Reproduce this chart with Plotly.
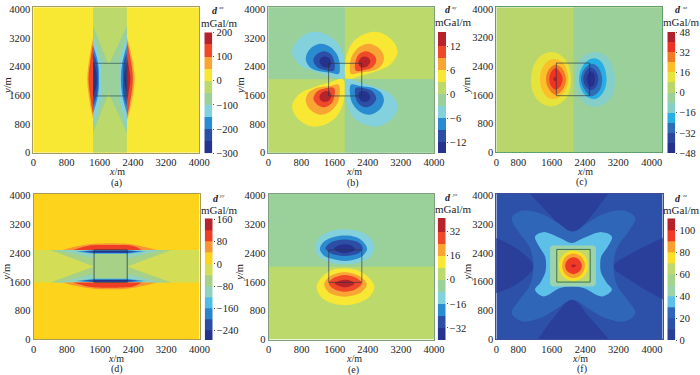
import plotly.graph_objects as go

W, H = 700, 375
FONT = "Liberation Serif"
TXT = "#222222"

# ---- shared colour bands, low to high ----
pal10 = ["#25338f", "#2d4ea5", "#2b8bd0", "#82d1dc", "#9ad09a", "#bcd96b", "#f8e733", "#f9a533", "#f0492a", "#b6232b"]
pal12 = ["#26318f", "#2a46a0", "#2e6eb8", "#27aee4", "#86cfc8", "#9bd09a", "#b8d66c", "#e6e33d", "#fcbf2a", "#f27a25", "#ee3324", "#b0222b"]
pald = ["#25338f", "#2b4da3", "#2b83ca", "#4fbce8", "#92d1bc", "#a6d186", "#d3dd55", "#fdd31c", "#f89633", "#ef3e26", "#b6232b"]
palf = ["#2a3f9a", "#2d50a8", "#2f66b8", "#5cc0e8", "#9cd3ad", "#a4d38a", "#c0d870", "#fbdf24", "#f8a02e", "#ee3a26", "#b4212a"]

# ---- colour-bar band edges and tick labels ----
a_edges = [-300, -250, -200, -150, -100, -50, 0, 50, 100, 150, 200]
a_ticks = [-300, -200, -100, 0, 100, 200]
b_edges = [-14.7, -12, -9, -6, -3, 0, 3, 6, 9, 12, 15.6]
b_ticks = [-12, -6, 0, 6, 12]
c_edges = [-48, -40, -32, -24, -16, -8, 0, 8, 16, 24, 32, 40, 48]
c_ticks = [-48, -32, -16, 0, 16, 32, 48]
d_edges = [-274, -240, -200, -160, -120, -80, -40, 0, 40, 80, 120, 164]
d_ticks = [-240, -160, -80, 0, 80, 160]
e_edges = [-40, -32, -24, -16, -8, 0, 8, 16, 24, 32, 41]
e_ticks = [-32, -16, 0, 16, 32]
f_edges = [0, 10, 20, 30, 40, 50, 60, 70, 80, 90, 100, 111]
f_ticks = [0, 20, 40, 60, 80, 100]

# ---- axis ticks ----
tick_vals = [0, 800, 1600, 2400, 3200, 4000]
tick_text = ["0", "800", "1600", "2400", "3200", "4000"]
shift_x_vals = [272, 800, 1600, 2400, 3200, 4000]

# ---- contour regions: (band, smooth, xs, ys), painted in order ----
a_regions = [
    (5, False, [1440, 2256, 2256, 1440], [0, 0, 4050, 4050]),
    (4, False, [1440, 1816, 2256, 2256, 1816, 1440], [3534, 2446, 3534, 558, 1665, 558]),
    (3, False, [1440, 1640, 1620, 1640, 1440], [3300, 2490, 2050, 1560, 650]),
    (3, False, [2256, 2060, 2080, 2060, 2256], [3300, 2490, 2050, 1560, 650]),
    (2, True, [1440, 1560, 1584, 1560, 1440], [3000, 2500, 2050, 1600, 1100]),
    (2, True, [2256, 2144, 2110, 2144, 2256], [3000, 2500, 2050, 1600, 1100]),
    (1, True, [1440, 1540, 1560, 1540, 1440], [2800, 2450, 2050, 1650, 1300]),
    (1, True, [2256, 2170, 2160, 2170, 2256], [2800, 2450, 2050, 1650, 1300]),
    (0, True, [1440, 1510, 1530, 1510, 1440], [2560, 2300, 2050, 1800, 1550]),
    (0, True, [2256, 2200, 2190, 2200, 2256], [2500, 2200, 2050, 1900, 1650]),
    (7, True, [1440, 1360, 1300, 1360, 1440], [3200, 2700, 2050, 1400, 950]),
    (8, True, [1440, 1380, 1330, 1380, 1440], [3050, 2600, 2050, 1500, 1050]),
    (7, True, [2256, 2350, 2440, 2350, 2256], [3200, 2800, 2050, 1300, 900]),
    (8, True, [2256, 2330, 2400, 2330, 2256], [3100, 2700, 2050, 1400, 1000]),
    (9, True, [2256, 2300, 2340, 2300, 2256], [2700, 2400, 2050, 1700, 1400]),
]
b_regions = [
    (4, False, [0, 1848, 1848, 0], [2046, 2046, 4050, 4050]),
    (5, False, [1848, 4000, 4000, 1848], [2046, 2046, 4050, 4050]),
    (5, False, [0, 1848, 1848, 0], [0, 0, 2046, 2046]),
    (4, False, [1848, 4000, 4000, 1848], [0, 0, 2046, 2046]),
    (3, True, [576, 680, 1000, 1320, 1640, 1824, 1800, 1520, 1120, 760], [2790, 3097, 3348, 3329, 3097, 2632, 2046, 2120, 2260, 2446]),
    (2, True, [904, 1000, 1240, 1480, 1664, 1728, 1696, 1480, 1160, 976], [2632, 2883, 3032, 2958, 2725, 2400, 2195, 2232, 2288, 2418]),
    (1, True, [1088, 1184, 1360, 1520, 1600, 1584, 1360, 1184], [2585, 2753, 2827, 2725, 2492, 2288, 2306, 2381]),
    (0, True, [1232, 1296, 1440, 1520, 1480, 1330], [2539, 2660, 2660, 2520, 2390, 2390]),
    (6, True, [3120, 3016, 2696, 2376, 2056, 1872, 1896, 2176, 2576, 2936], [2790, 3097, 3348, 3329, 3097, 2632, 2046, 2120, 2260, 2446]),
    (7, True, [2792, 2696, 2456, 2216, 2032, 1968, 2000, 2216, 2536, 2720], [2632, 2883, 3032, 2958, 2725, 2400, 2195, 2232, 2288, 2418]),
    (8, True, [2608, 2512, 2336, 2176, 2096, 2112, 2336, 2512], [2585, 2753, 2827, 2725, 2492, 2288, 2306, 2381]),
    (9, True, [2464, 2400, 2256, 2176, 2216, 2366], [2539, 2660, 2660, 2520, 2390, 2390]),
    (6, True, [576, 680, 1000, 1320, 1640, 1824, 1800, 1520, 1120, 760], [1302, 995, 744, 763, 995, 1460, 2046, 1972, 1832, 1646]),
    (7, True, [904, 1000, 1240, 1480, 1664, 1728, 1696, 1480, 1160, 976], [1460, 1209, 1060, 1134, 1367, 1692, 1897, 1860, 1804, 1674]),
    (8, True, [1088, 1184, 1360, 1520, 1600, 1584, 1360, 1184], [1507, 1339, 1265, 1367, 1600, 1804, 1786, 1711]),
    (9, True, [1232, 1296, 1440, 1520, 1480, 1330], [1553, 1432, 1432, 1572, 1702, 1702]),
    (3, True, [3120, 3016, 2696, 2376, 2056, 1872, 1896, 2176, 2576, 2936], [1302, 995, 744, 763, 995, 1460, 2046, 1972, 1832, 1646]),
    (2, True, [2792, 2696, 2456, 2216, 2032, 1968, 2000, 2216, 2536, 2720], [1460, 1209, 1060, 1134, 1367, 1692, 1897, 1860, 1804, 1674]),
    (1, True, [2608, 2512, 2336, 2176, 2096, 2112, 2336, 2512], [1507, 1339, 1265, 1367, 1600, 1804, 1786, 1711]),
    (0, True, [2464, 2400, 2256, 2176, 2216, 2366], [1553, 1432, 1432, 1572, 1702, 1702]),
]
c_regions = [
    (5, False, [2120, 4256, 4256, 2120], [0, 0, 4050, 4050]),
    (7, True, [1104, 1160, 1320, 1560, 1800, 1984, 2064, 2000, 1800, 1560, 1320, 1160], [2027, 2399, 2678, 2799, 2725, 2492, 2074, 1609, 1358, 1283, 1395, 1655]),
    (8, True, [1320, 1376, 1520, 1680, 1880, 2000, 1920, 1720, 1520, 1376], [2027, 2353, 2557, 2604, 2492, 2074, 1702, 1497, 1516, 1730]),
    (9, True, [1464, 1520, 1680, 1840, 1944, 1856, 1680, 1520], [2046, 2288, 2446, 2353, 2046, 1730, 1609, 1795]),
    (10, True, [1544, 1584, 1696, 1808, 1864, 1808, 1696, 1584], [2046, 2232, 2353, 2232, 2046, 1842, 1749, 1860]),
    (11, True, [1640, 1680, 1720, 1680], [2046, 2110, 2046, 1982]),
    (4, True, [2176, 2240, 2416, 2656, 2920, 3080, 3120, 3080, 2920, 2656, 2416, 2240], [2074, 2492, 2725, 2799, 2678, 2353, 2027, 1655, 1395, 1265, 1358, 1609]),
    (3, True, [2256, 2320, 2464, 2656, 2816, 2920, 2840, 2656, 2440, 2320], [2046, 2353, 2567, 2623, 2492, 2046, 1674, 1488, 1562, 1730]),
    (2, True, [2304, 2384, 2544, 2704, 2816, 2736, 2544, 2384], [2046, 2325, 2474, 2399, 2046, 1702, 1562, 1767]),
    (1, True, [2360, 2416, 2544, 2664, 2720, 2664, 2544, 2416], [2046, 2260, 2371, 2260, 2046, 1823, 1730, 1842]),
    (0, True, [2440, 2480, 2544, 2616, 2640, 2616, 2544, 2480], [2046, 2195, 2260, 2195, 2046, 1888, 1823, 1888]),
]
d_regions = [
    (6, False, [0, 4000, 4000, 0], [1581, 1581, 2492, 2492]),
    (5, False, [400, 3320, 2256, 3320, 400, 1456], [2492, 2492, 2027, 1581, 1581, 2027]),
    (4, False, [560, 1456, 1456], [2492, 2250, 2492]),
    (4, False, [2256, 2256, 3100], [2492, 2250, 2492]),
    (4, False, [560, 1456, 1456], [1581, 1830, 1581]),
    (4, False, [2256, 2256, 3100], [1581, 1830, 1581]),
    (3, False, [1000, 1456, 2256, 2720, 2256, 1456], [2450, 2492, 2492, 2450, 2380, 2380]),
    (2, False, [1060, 1456, 2256, 2640, 2256, 1456], [2445, 2480, 2480, 2445, 2400, 2400]),
    (1, False, [1200, 1456, 2256, 2500, 2256, 1456], [2440, 2470, 2470, 2440, 2410, 2410]),
    (0, False, [1456, 2256, 2256, 1456], [2460, 2460, 2420, 2420]),
    (3, False, [1000, 1456, 2256, 2720, 2256, 1456], [1623, 1581, 1581, 1623, 1693, 1693]),
    (2, False, [1060, 1456, 2256, 2640, 2256, 1456], [1628, 1593, 1593, 1628, 1673, 1673]),
    (1, False, [1200, 1456, 2256, 2500, 2256, 1456], [1633, 1603, 1603, 1633, 1663, 1663]),
    (0, False, [1456, 2256, 2256, 1456], [1613, 1613, 1653, 1653]),
    (8, True, [700, 1000, 1450, 2250, 2650, 2970], [2492, 2580, 2660, 2660, 2580, 2492]),
    (9, True, [950, 1300, 1500, 2150, 2400, 2610], [2492, 2600, 2625, 2625, 2600, 2492]),
    (8, True, [700, 1000, 1450, 2250, 2650, 2970], [1581, 1490, 1410, 1410, 1490, 1581]),
    (9, True, [950, 1300, 1500, 2150, 2400, 2610], [1581, 1470, 1445, 1445, 1470, 1581]),
]
e_regions = [
    (4, False, [0, 4000, 4000, 0], [2027, 2027, 4050, 4050]),
    (3, True, [1120, 1216, 1480, 1840, 2200, 2464, 2560, 2464, 2200, 1840, 1480, 1216], [2539, 2818, 3004, 3069, 3004, 2818, 2539, 2306, 2148, 2092, 2148, 2306]),
    (2, True, [1240, 1344, 1560, 1840, 2120, 2280, 2384, 2280, 2120, 1840, 1560, 1344], [2520, 2725, 2846, 2892, 2846, 2725, 2520, 2334, 2241, 2185, 2241, 2334]),
    (1, True, [1376, 1480, 1640, 1840, 2040, 2200, 2280, 2200, 2040, 1840, 1640, 1480], [2539, 2678, 2753, 2781, 2753, 2678, 2539, 2418, 2353, 2325, 2353, 2418]),
    (0, True, [1584, 1696, 1840, 1984, 2096, 1984, 1840, 1696], [2520, 2623, 2650, 2623, 2520, 2436, 2399, 2436]),
    (6, True, [1160, 1264, 1480, 1840, 2200, 2440, 2560, 2440, 2200, 1840, 1480, 1264], [1469, 1702, 1907, 1981, 1907, 1702, 1469, 1190, 1032, 958, 1032, 1190]),
    (7, True, [1344, 1440, 1600, 1840, 2080, 2256, 2376, 2256, 2080, 1840, 1600, 1440], [1535, 1720, 1823, 1869, 1823, 1720, 1535, 1330, 1237, 1190, 1237, 1330]),
    (8, True, [1456, 1560, 1696, 1840, 2000, 2136, 2256, 2136, 2000, 1840, 1696, 1560], [1562, 1702, 1767, 1795, 1767, 1702, 1562, 1423, 1358, 1330, 1358, 1423]),
    (9, True, [1600, 1720, 1840, 1984, 2080, 1984, 1840, 1720], [1562, 1637, 1665, 1637, 1562, 1488, 1451, 1488]),
]
f_regions = [
    (0, "open", [1040, 1520, 1920, 2080, 2240, 2600, 2976], [4100, 3515, 3050, 2957, 3050, 3515, 4100]),
    (0, "open", [200, 800, 1160, 800, 200], [2850, 2492, 2027, 1562, 1250]),
    (0, "open", [4300, 3520, 3080, 3520, 4300], [2850, 2399, 2027, 1609, 1080]),
    (0, "open", [1250, 1640, 2080, 2520, 2990], [-50, 586, 1097, 586, -50]),
    (2, True, [2096, 2480, 2880, 3360, 3600, 3440, 3160, 3080, 3160, 3440, 3600, 3360, 2880, 2480, 2096, 1720, 1320, 880, 640, 800, 1080, 1160, 1080, 800, 640, 880, 1320, 1720],
     [3004, 3264, 3515, 3580, 3376, 3004, 2539, 2027, 1516, 1051, 725, 493, 586, 846, 1097, 846, 586, 493, 725, 1051, 1516, 2027, 2539, 3004, 3376, 3580, 3515, 3264]),
    (3, True, [2080, 2360, 2800, 3040, 2920, 2784, 2760, 2784, 2920, 3040, 2800, 2360, 2080, 1800, 1400, 1200, 1320, 1440, 1464, 1440, 1320, 1200, 1400, 1800],
     [2678, 2818, 2985, 2864, 2539, 2306, 2074, 1841, 1562, 1376, 1190, 1423, 1469, 1423, 1190, 1376, 1562, 1841, 2074, 2306, 2539, 2864, 2985, 2818]),
    (4, False, [1620, 2600, 2656, 2656, 2600, 1620, 1560, 1560], [2613, 2613, 2560, 1530, 1469, 1469, 1530, 2560]),
    (6, False, [1712, 2512, 2512, 1712], [2500, 2500, 1590, 1590]),
    (7, True, [2120, 2370, 2472, 2370, 2120, 1870, 1768, 1870], [2474, 2349, 2046, 1743, 1618, 1743, 2046, 2349]),
    (8, True, [2120, 2312, 2392, 2312, 2120, 1928, 1848, 1928], [2390, 2289, 2046, 1803, 1702, 1803, 2046, 2289]),
    (9, True, [2120, 2260, 2320, 2260, 2120, 1980, 1920, 1980], [2280, 2210, 2046, 1882, 1812, 1882, 2046, 2210]),
    (10, True, [2060, 2120, 2180, 2120], [2046, 2090, 2046, 2002]),
]

# ---- prism outlines drawn on each panel ----
a_box = ([1456, 2256, 2256, 1456, 1456], [1581, 1581, 2490, 2490, 1581])
b_box = ([1456, 2256, 2256, 1456, 1456], [1581, 1581, 2490, 2490, 1581])
c_box = ([1712, 2512, 2512, 1712, 1712], [1581, 1581, 2492, 2492, 1581])
d_box = ([1456, 2256, 2256, 1456, 1456], [1590, 1590, 2492, 2492, 1590])
e_box = ([1456, 2256, 2256, 1456, 1456], [1590, 1590, 2492, 2492, 1590])
f_box = ([1720, 2520, 2520, 1720, 1720], [1590, 1590, 2502, 2502, 1590])

panels = [
    dict(name="a", sup="xx", closed=False, regions=a_regions, pal=pal10, bg=6, edges=a_edges, ticks=a_ticks, box=a_box, xr=[0, 4000], tv=tick_vals,
         rect=(33.3, 199.3, 7.3, 152.7), bar=(204.3, 212.3, 32.3, 153.3), frame="#a89c5a", boxc="rgba(30,70,80,0.7)",
         yt=7, xt=116.7, lab=116.7, dlab=(215, 11), mg=(219, 23)),
    dict(name="b", sup="xy", closed=True, regions=b_regions, pal=pal10, bg=4, edges=b_edges, ticks=b_ticks, box=b_box, xr=[0, 4000], tv=tick_vals,
         rect=(268.3, 434, 7.3, 152.7), bar=(438, 446, 32, 153), frame="#7f9f7f", boxc="rgba(30,50,60,0.7)",
         yt=240, xt=354, lab=353, dlab=(448, 10), mg=(453, 22)),
    dict(name="c", sup="xz", closed=True, regions=c_regions, pal=pal12, bg=6, edges=c_edges, ticks=c_ticks, box=c_box, xr=[272, 4256], tv=shift_x_vals,
         rect=(496.3, 662.3, 7.3, 152.3), bar=(667.3, 675.3, 32, 153), frame="#5f9f6f", boxc="rgba(30,50,60,0.7)",
         yt=467, xt=585, lab=581.7, dlab=(678, 10), mg=(681, 22)),
    dict(name="d", sup="yy", closed=False, regions=d_regions, pal=pald, bg=7, edges=d_edges, ticks=d_ticks, box=d_box, xr=[0, 4000], tv=tick_vals,
         rect=(33.7, 199.5, 194, 339.3), bar=(204.7, 212.7, 218.3, 340), frame="#a89c5a", boxc="rgba(30,50,60,0.8)",
         yt=7, xt=116, lab=117, dlab=(216, 198), mg=(219, 210)),
    dict(name="e", sup="yz", closed=True, regions=e_regions, pal=pal10, bg=5, edges=e_edges, ticks=e_ticks, box=e_box, xr=[0, 4000], tv=tick_vals,
         rect=(268.5, 434, 194, 339.5), bar=(437.7, 445.7, 218, 340), frame="#7f9f7f", boxc="rgba(50,50,60,0.7)",
         yt=240, xt=354, lab=353, dlab=(448, 197), mg=(453, 209)),
    dict(name="f", sup="zz", closed=True, regions=f_regions, pal=palf, bg=1, edges=f_edges, ticks=f_ticks, box=f_box, xr=[272, 4256], tv=shift_x_vals,
         rect=(496.3, 662.7, 194, 339), bar=(667.3, 675.3, 218.3, 340), frame="#3f4fa0", boxc="rgba(30,90,60,0.9)",
         yt=467, xt=580, lab=582, dlab=(678, 198), mg=(681, 210)),
]


def px(x):
    return x / W


def py(y):
    return 1 - y / H


fig = go.Figure()
layout = {}
annos = []


def note(x, y, text, size=10, angle=0):
    annos.append(dict(x=px(x), y=py(y), xref="paper", yref="paper", text=text, showarrow=False,
                      font=dict(family=FONT, size=size, color=TXT), xanchor="center", yanchor="middle",
                      textangle=angle))


for i, p in enumerate(panels):
    xa, ya = f"x{2 * i + 1}", f"y{2 * i + 1}"
    xb, yb = f"x{2 * i + 2}", f"y{2 * i + 2}"
    L, R, T, B = p["rect"]
    pal = p["pal"]
    tickfont = dict(family=FONT, size=10.5, color=TXT)
    layout[f"xaxis{2 * i + 1}"] = dict(domain=[px(L), px(R)], range=p["xr"], tickvals=p["tv"], ticktext=tick_text,
                                       showgrid=False, zeroline=False, showline=True, mirror=True, linecolor=p["frame"],
                                       linewidth=1, ticks="", tickfont=tickfont, anchor=ya, tickangle=0, automargin=False)
    layout[f"yaxis{2 * i + 1}"] = dict(domain=[py(B), py(T)], range=[0, 4050], tickvals=tick_vals, ticktext=tick_text,
                                       showgrid=False, zeroline=False, showline=True, mirror=True, linecolor=p["frame"],
                                       linewidth=1, ticks="", tickfont=tickfont, anchor=xa, automargin=False)
    # panel background band
    fig.add_trace(go.Scatter(x=[p["xr"][0], p["xr"][1], p["xr"][1], p["xr"][0]], y=[0, 0, 4050, 4050],
                             fill="toself", fillcolor=pal[p["bg"]], mode="lines", line=dict(width=0),
                             hoverinfo="skip", showlegend=False, xaxis=xa, yaxis=ya))
    for band, smooth, xs, ys in p["regions"]:
        if p["closed"] and smooth is True:
            xs, ys = xs + xs[:1], ys + ys[:1]
        fig.add_trace(go.Scatter(x=xs, y=ys, fill="toself", fillcolor=pal[band], mode="lines",
                                 line=dict(width=0, shape="spline" if smooth else "linear", smoothing=1.0),
                                 hoverinfo="skip", showlegend=False, xaxis=xa, yaxis=ya))
    fig.add_trace(go.Scatter(x=p["box"][0], y=p["box"][1], mode="lines", line=dict(color=p["boxc"], width=0.9),
                             hoverinfo="skip", showlegend=False, xaxis=xa, yaxis=ya))

    # colour bar
    n = len(p["edges"]) - 1
    scale = []
    for k, col in enumerate(pal):
        scale += [[k / n, col], [(k + 1) / n, col]]
    bl, br, bt, bb = p["bar"]
    fig.add_trace(go.Heatmap(x=[0, 1], y=p["edges"], z=[[k] for k in range(n)], zmin=-0.5, zmax=n - 0.5,
                             colorscale=scale, showscale=False, hoverinfo="skip", xaxis=xb, yaxis=yb))
    layout[f"xaxis{2 * i + 2}"] = dict(domain=[px(bl), px(br)], range=[0, 1], visible=False, anchor=yb, automargin=False)
    layout[f"yaxis{2 * i + 2}"] = dict(domain=[py(bb), py(bt)], range=[p["edges"][0], p["edges"][-1]], side="right",
                                       anchor=xb, tickvals=p["ticks"],
                                       ticktext=[str(v).replace("-", "\u2212") for v in p["ticks"]],
                                       showgrid=False, zeroline=False, showline=False, ticks="outside", ticklen=1,
                                       tickcolor="#555", tickfont=tickfont, automargin=False)

    # texts
    mid_y = (T + B) / 2
    note(p["yt"], mid_y + 6, "<i>y</i>/m", size=10.5, angle=-90)
    note(p["xt"], B + 19, "<i>x</i>/m", size=10)
    note(p["lab"], B + 30, f"({p['name']})", size=10)
    note(p["dlab"][0], p["dlab"][1], "<b><i>d</i></b>", size=10)
    note(p["dlab"][0] + 6, p["dlab"][1] - 3, f"<i>{p['sup']}</i>", size=5)
    note(p["mg"][0], p["mg"][1], "mGal/m", size=11)

fig.update_layout(width=W, height=H, margin=dict(l=0, r=0, t=0, b=0), paper_bgcolor="white", plot_bgcolor="white",
                  annotations=annos, showlegend=False, **layout)
fig.write_html("out.html", config={"displayModeBar": False},
               post_script="document.body.style.margin='0';document.documentElement.style.overflow='hidden';")
